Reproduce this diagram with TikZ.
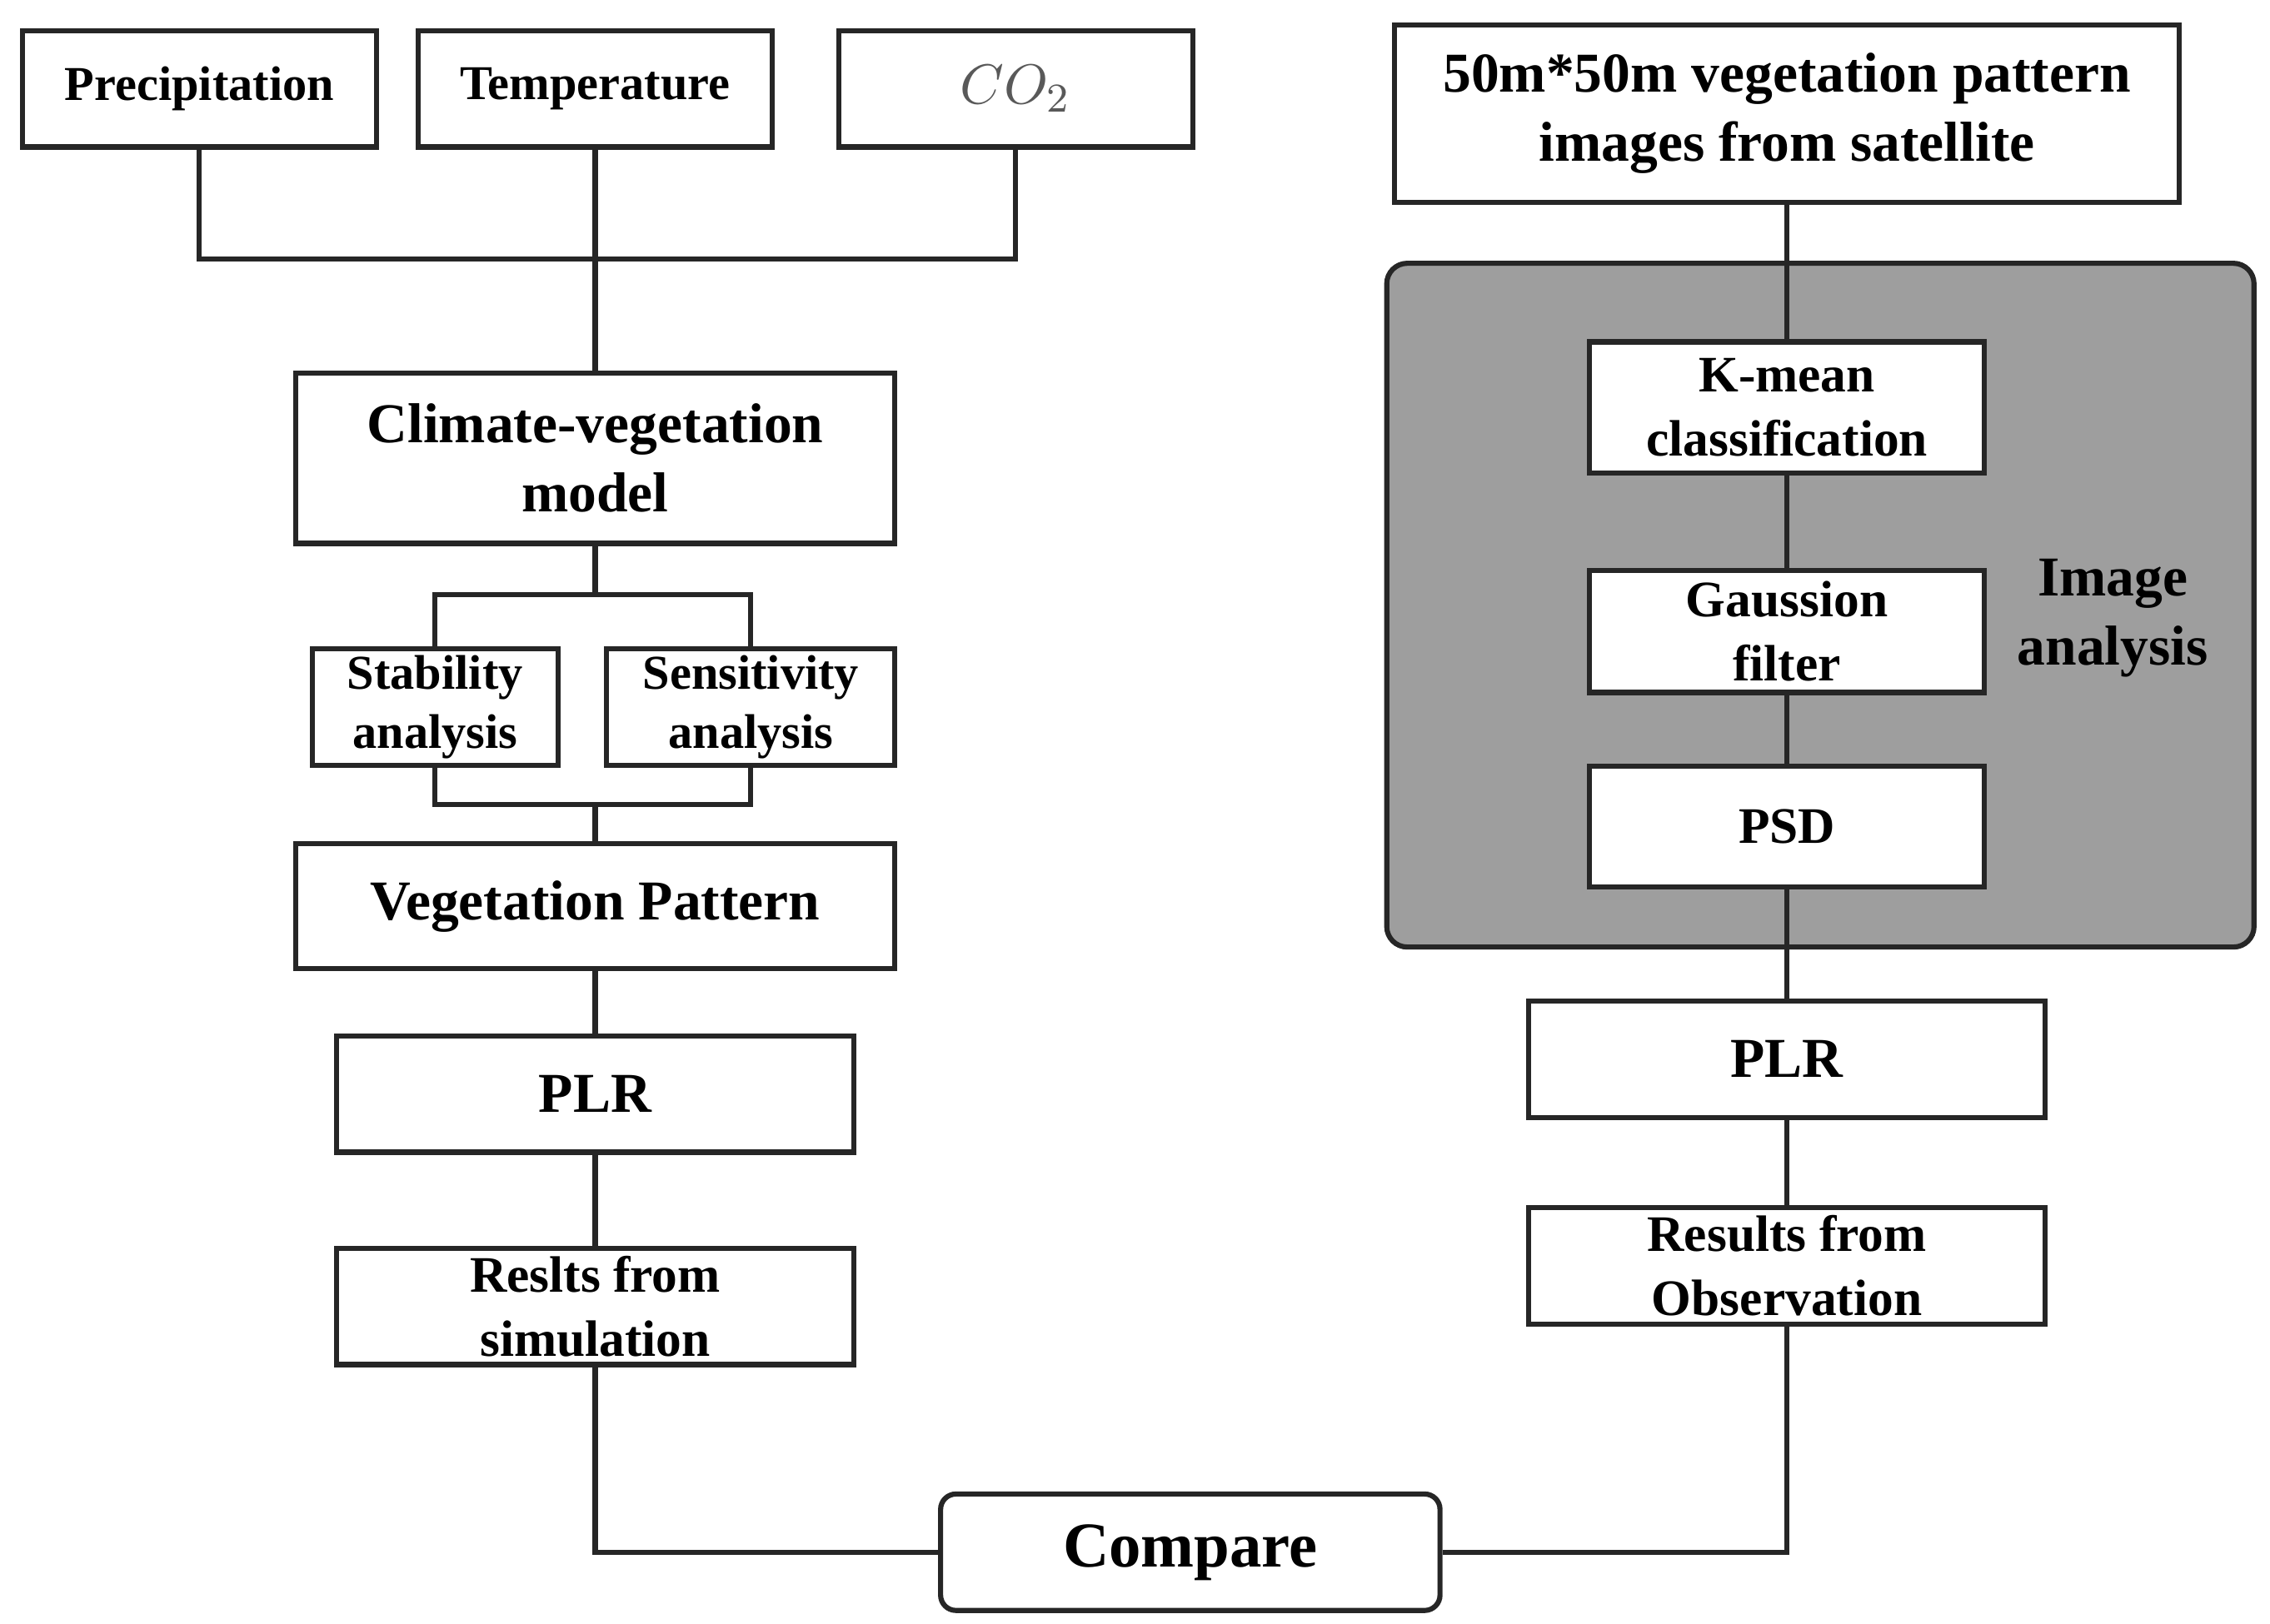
\documentclass[tikz,border=0pt]{standalone}
\usepackage{fontspec}
\setmainfont{Liberation Serif}
\usetikzlibrary{positioning}

\begin{document}
\begin{tikzpicture}
  [x=0.01cm,y=-0.01cm,line width=1pt]
  \tikzset{box/.style={draw=black!85, fill=white, inner sep=0, align=center, font=\bfseries},
           big/.style={font=\fontsize{11}{13.5}\selectfont\bfseries},
           mid/.style={font=\fontsize{10}{12.5}\selectfont\bfseries},
           small/.style={font=\fontsize{9.5}{11.5}\selectfont\bfseries},
           edge_style/.style={draw=black!85, line width=1pt}}
  \useasboundingbox (0,0) rectangle (1560,1116);
  % climate inputs
  \node[box, small, minimum width=2.43cm, minimum height=0.8cm] (prec) at (137,61) {Precipitation};
  \node[box, small, minimum width=2.43cm, minimum height=0.8cm] (temp) at (409,61) {Temperature};
  \node[box, minimum width=2.43cm, minimum height=0.8cm, font=\fontsize{11}{13}\selectfont] (co2) at (698,61) {\textcolor{black!65}{$CO_2$}};
  \coordinate (join) at (409,178);
  % simulation branch
  \node[box, big, minimum width=4.11cm, minimum height=1.17cm] (model) at (409,315) {Climate-vegetation\\model};
  \node[box, small, minimum width=1.69cm, minimum height=0.8cm] (stab) at (299,486) {Stability\\analysis};
  \node[box, small, minimum width=1.98cm, minimum height=0.8cm] (sens) at (516,486) {Sensitivity\\analysis};
  \coordinate (split) at (409,409);
  \coordinate (merge) at (409,553);
  \node[box, big, minimum width=4.11cm, minimum height=0.86cm] (veg) at (409,623) {Vegetation Pattern};
  \node[box, big, minimum width=3.55cm, minimum height=0.8cm] (plrl) at (409,752) {PLR};
  \node[box, mid, minimum width=3.55cm, minimum height=0.8cm] (sim) at (409,898) {Reslts from\\simulation};
  \node[box, font=\fontsize{12.5}{14}\selectfont\bfseries, rounded corners=3pt, minimum width=3.43cm, minimum height=0.8cm] (comp) at (818,1067) {Compare};
  % observation branch
  \node[box, big, minimum width=5.39cm, minimum height=1.22cm] (sat) at (1228,78) {50m*50m vegetation pattern\\images from satellite};
  \fill[black!38, draw=black!85, rounded corners=4pt] (953,181) rectangle (1549,651);
  \node[box, mid, minimum width=2.71cm, minimum height=0.9cm] (kmean) at (1228,280) {K-mean\\classification};
  \node[box, mid, minimum width=2.71cm, minimum height=0.84cm] (gauss) at (1228,434) {Gaussion\\filter};
  \node[box, mid, minimum width=2.71cm, minimum height=0.83cm] (psd) at (1228,568) {PSD};
  \node[big, align=center] (imga) at (1452,425) {Image\\analysis};
  \node[box, big, minimum width=3.55cm, minimum height=0.8cm] (plrr) at (1228,728) {PLR};
  \node[box, mid, minimum width=3.55cm, minimum height=0.8cm] (obs) at (1228,870) {Results from\\Observation};
  % connectors
  \draw[edge_style] (prec) |- (join) -| (co2);
  \draw[edge_style] (temp) -- (model);
  \draw[edge_style] (model) -- (split);
  \draw[edge_style] (stab.north) |- (split) -| (sens.north);
  \draw[edge_style] (stab.south) |- (merge) -| (sens.south);
  \draw[edge_style] (merge) -- (veg);
  \draw[edge_style] (veg) -- (plrl);
  \draw[edge_style] (plrl) -- (sim);
  \draw[edge_style] (sim) |- (comp);
  \draw[edge_style] (sat) -- (kmean);
  \draw[edge_style] (kmean) -- (gauss);
  \draw[edge_style] (gauss) -- (psd);
  \draw[edge_style] (psd) -- (plrr);
  \draw[edge_style] (plrr) -- (obs);
  \draw[edge_style] (obs) |- (comp);
\end{tikzpicture}
\end{document}
